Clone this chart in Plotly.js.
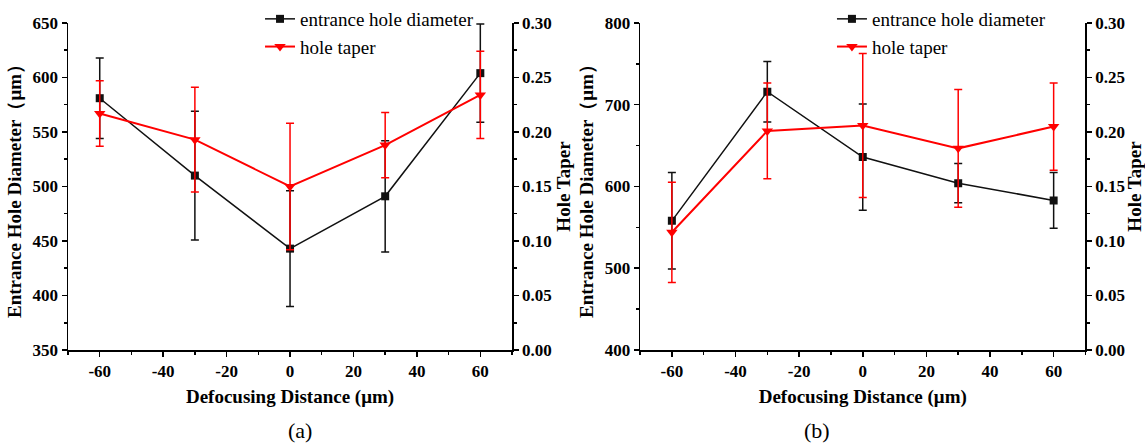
<!DOCTYPE html>
<html>
<head>
<meta charset="utf-8">
<script src="https://cdn.plot.ly/plotly-3.0.1.min.js"></script>
<style>html,body{margin:0;padding:0;background:#fff;}#chart{width:1145px;height:444px;}</style>
</head>
<body>
<div id="chart"></div>
<script>
// ---- data ----
const defocus = [-60, -30, 0, 30, 60];
const xTickVals = [-60, -40, -20, 0, 20, 40, 60];
const xTickText = ['-60', '-40', '-20', '0', '20', '40', '60'];

// panel (a)
const diamA = [581, 510, 443, 491, 604];
const diamErrA = [37, 59, 53, 51, 45];
const taperA = [0.217, 0.193, 0.150, 0.188, 0.234];
const taperErrA = [0.030, 0.048, 0.058, 0.030, 0.040];

// panel (b)
const diamB = [558, 716, 636, 604, 583];
const diamErrB = [59, 37, 65, 24, 34];
const taperB = [0.108, 0.201, 0.206, 0.185, 0.205];
const taperErrB = [0.046, 0.044, 0.066, 0.054, 0.040];

const nameDiam = 'entrance hole diameter';
const nameTaper = 'hole taper';
const panelLabels = ['(a)', '(b)'];

// ---- styling ----
const SERIF = 'Liberation Serif, Times New Roman, serif';
const BLACK = '#111111';
const RED = '#ff0000';

function blackTrace(y, err, xa, ya, leg) {
  return {
    x: defocus, y: y, xaxis: xa, yaxis: ya, legend: leg,
    name: nameDiam, type: 'scatter', mode: 'lines+markers',
    line: {color: BLACK, width: 1.5},
    marker: {symbol: 'square', size: 8, color: BLACK},
    error_y: {type: 'data', array: err, visible: true, color: BLACK, thickness: 1.5, width: 4}
  };
}
function redTrace(y, err, xa, ya, leg) {
  return {
    x: defocus, y: y, xaxis: xa, yaxis: ya, legend: leg,
    name: nameTaper, type: 'scatter', mode: 'lines+markers',
    line: {color: RED, width: 2},
    marker: {symbol: 'triangle-down', size: 10, color: RED},
    error_y: {type: 'data', array: err, visible: true, color: RED, thickness: 1.5, width: 4}
  };
}

const data = [
  blackTrace(diamA, diamErrA, 'x', 'y', 'legend'),
  redTrace(taperA, taperErrA, 'x', 'y2', 'legend'),
  blackTrace(diamB, diamErrB, 'x2', 'y3', 'legend2'),
  redTrace(taperB, taperErrB, 'x2', 'y4', 'legend2')
];

const tickFont = {family: SERIF, size: 17, color: '#000', weight: 'bold'};
const titleFont = {family: SERIF, size: 19, color: '#000', weight: 'bold'};

function xAxis(domain, anchor) {
  return {
    domain: domain, anchor: anchor, range: [-70, 70],
    tickvals: xTickVals, ticktext: xTickText,
    ticks: 'outside', ticklen: 5, tickwidth: 1.5, tickcolor: '#000',
    minor: {tickvals: [-70,-50,-30,-10,10,30,50,70], ticks: 'outside', ticklen: 3, tickwidth: 1.5, tickcolor: '#000'},
    showline: true, linecolor: '#000', linewidth: 1.5, mirror: false,
    showgrid: false, zeroline: false, automargin: false,
    tickfont: tickFont,
    title: {text: 'Defocusing Distance (μm)', font: titleFont, standoff: 10}
  };
}
function yLeft(domain, anchor, range, dtick, minorDtick) {
  return {
    domain: domain, anchor: anchor, range: range, dtick: dtick, tick0: range[0],
    ticks: 'outside', ticklen: 5, tickwidth: 1.5, tickcolor: '#000',
    minor: {dtick: minorDtick, ticks: 'outside', ticklen: 3, tickwidth: 1.5, tickcolor: '#000'},
    showline: true, linecolor: '#000', linewidth: 1.5,
    showgrid: false, zeroline: false, automargin: false,
    tickfont: tickFont,
    title: {text: 'Entrance Hole Diameter（μm）', font: titleFont, standoff: 6}
  };
}
function yRight(overlay, anchor) {
  return {
    overlaying: overlay, anchor: anchor, side: 'right',
    range: [0, 0.30], dtick: 0.05, tick0: 0, tickformat: '.2f',
    ticks: 'outside', ticklen: 5, tickwidth: 1.5, tickcolor: '#000',
    minor: {dtick: 0.025, ticks: 'outside', ticklen: 3, tickwidth: 1.5, tickcolor: '#000'},
    showline: true, linecolor: '#000', linewidth: 1.5,
    showgrid: false, zeroline: false, automargin: false,
    tickfont: tickFont,
    title: {text: 'Hole Taper', font: titleFont, standoff: 6}
  };
}

const yDom = [0.2117, 0.9482];
const legendCommon = {
  bgcolor: 'rgba(0,0,0,0)', borderwidth: 0,
  font: {family: SERIF, size: 19, color: '#000'},
  xanchor: 'left', yanchor: 'top', tracegroupgap: 0
};

const layout = {
  width: 1145, height: 444,
  margin: {l: 0, r: 0, t: 0, b: 0, autoexpand: false},
  paper_bgcolor: '#fff', plot_bgcolor: '#fff',
  showlegend: true,
  xaxis: xAxis([0.0594, 0.4472], 'y'),
  yaxis: yLeft(yDom, 'x', [350, 650], 50, 25),
  yaxis2: yRight('y', 'x'),
  xaxis2: xAxis([0.559, 0.948], 'y3'),
  yaxis3: yLeft(yDom, 'x2', [400, 800], 100, 50),
  yaxis4: yRight('y3', 'x2'),
  legend: Object.assign({x: 0.2271, y: 1.0}, legendCommon),
  legend2: Object.assign({x: 0.7266, y: 1.0}, legendCommon),
  annotations: [
    {text: panelLabels[0], xref: 'paper', yref: 'paper', x: 0.2498, y: 0.0315, yanchor: 'middle', showarrow: false,
     font: {family: SERIF, size: 22, color: '#000'}},
    {text: panelLabels[1], xref: 'paper', yref: 'paper', x: 0.7266, y: 0.0315, yanchor: 'middle', showarrow: false,
     font: {family: SERIF, size: 22, color: '#000'}}
  ]
};

Plotly.newPlot('chart', data, layout, {displayModeBar: false, staticPlot: true});
</script>
</body>
</html>
